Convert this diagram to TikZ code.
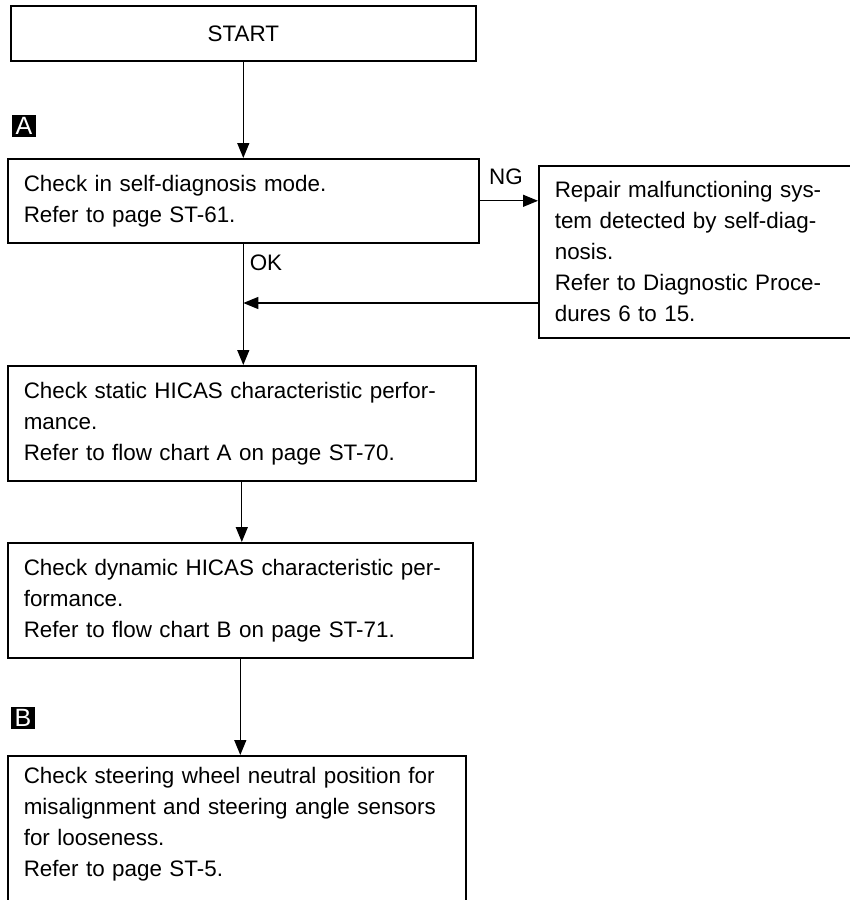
\documentclass[tikz,border=0pt]{standalone}
\usepackage{fontspec}
\setmainfont{Liberation Sans}
\usetikzlibrary{arrows.meta}
\begin{document}
\begin{tikzpicture}[x=1pt,y=-1pt,
  box/.style={draw, line width=1.6pt, anchor=north west, inner xsep=16pt, inner ysep=0pt,
    align=left, font=\fontsize{22.4}{31}\selectfont},
  conn/.style={line width=1.3pt},
  arr/.style={conn, -{Triangle[length=15pt,width=12pt]}},
  lab/.style={fill=black, text=white, inner xsep=4pt, inner ysep=2.5pt, font=\fontsize{25}{25}\selectfont},
  tag/.style={font=\fontsize{22.4}{24}\selectfont}]
\useasboundingbox (0,0) rectangle (850,900);
\clip (0,0) rectangle (850,900);
\node[box, align=center, minimum width=465pt, minimum height=55pt, text width=433pt] (start) at (10,5) {START};
\node[box, minimum width=471pt, minimum height=84pt, text width=439pt] (b1) at (7,158)
  {Check in self-diagnosis mode.\\Refer to page ST-61.};
\node[box, minimum width=312pt, minimum height=172pt, text width=280pt] (ng) at (538,165)
  {Repair malfunctioning sys-\\tem detected by self-diag-\\nosis.\\Refer to Diagnostic Proce-\\dures 6 to 15.};
\node[box, minimum width=468pt, minimum height=115pt, text width=436pt] (b2) at (7,365)
  {Check static HICAS characteristic perfor-\\mance.\\Refer to flow chart A on page ST-70.};
\node[box, minimum width=465pt, minimum height=115pt, text width=433pt] (b3) at (7,542)
  {Check dynamic HICAS characteristic per-\\formance.\\Refer to flow chart B on page ST-71.};
\node[box, minimum width=458pt, minimum height=164pt, text width=426pt] (b4) at (7,755)
  {Check steering wheel neutral position for\\misalignment and steering angle sensors\\for looseness.\\Refer to page ST-5.\\\mbox{}};
\node[lab] (la) at (24,126) {A};
\node[lab] (lb) at (23,718) {B};
\node[tag] (tng) at (506,177) {NG};
\node[tag] (tok) at (266,263) {OK};
\draw[arr] (start.south) -- (b1.north);
\draw[arr] (b1.east) -- (b1.east -| ng.west);
\draw[arr] (b1.south) -- (b1.south |- b2.north);
\coordinate (j) at (b1.south |- 0,303);
\draw[arr] (ng.west |- j) -- (j);
\draw[arr] (b2.south) -- (b2.south |- b3.north);
\draw[arr] (b3.south) -- (b3.south |- b4.north);
\end{tikzpicture}
\end{document}
